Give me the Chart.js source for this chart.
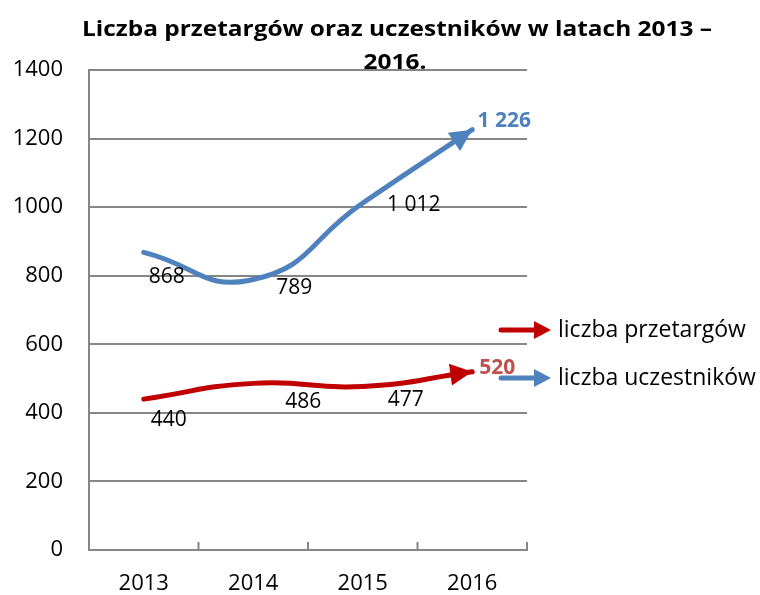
<!DOCTYPE html>
<html>
<head>
<meta charset="utf-8">
<script src="https://cdn.jsdelivr.net/npm/chart.js@4/dist/chart.umd.min.js"></script>
<style>
  html, body { margin: 0; padding: 0; background: #fff; }
  #wrap { width: 760px; height: 595px; position: relative; }
</style>
</head>
<body>
<div id="wrap"><canvas id="c" width="760" height="595"></canvas></div>
<script>
// Lata i wartości
const years = ['2013', '2014', '2015', '2016'];
const przetargi = [440, 486, 477, 520];
const uczestnicy = [868, 789, 1012, 1226];
const yTicks = [0, 200, 400, 600, 800, 1000, 1200, 1400];

const titleLines = ['Liczba przetargów oraz uczestników w latach 2013 –', '2016.'];
const seriesNames = ['liczba przetargów', 'liczba uczestników'];

// przesunięcia etykiet wartości względem punktów (px)
const labelShiftRed = [[25, 21], [50, 19], [43, 14], [25, -4]];
const labelShiftBlue = [[23, 25], [41, 9], [51, 2], [32, -9]];

const RED = '#C00000';
const BLUE = '#4F81BD';
const RED_LABEL = '#C0504D';
const GRID = '#868686';
const FONT = '"Open Sans", "Noto Sans", sans-serif';

function fmt(v) {
  return String(v).replace(/\B(?=(\d{3})+(?!\d))/g, ' ');
}

function drawArrowHead(ctx, x, y, ang, color, len, half) {
  ctx.save();
  ctx.translate(x, y);
  ctx.rotate(ang);
  ctx.fillStyle = color;
  ctx.beginPath();
  ctx.moveTo(0, 0);
  ctx.lineTo(-len, -half);
  ctx.lineTo(-len, half);
  ctx.closePath();
  ctx.fill();
  ctx.restore();
}

// tekst rozciągnięty w poziomie do zadanej szerokości
function fillStretched(ctx, txt, cx, cy, width) {
  const w = ctx.measureText(txt).width;
  const sx = width / w;
  ctx.save();
  ctx.translate(cx, cy);
  ctx.scale(sx, 1);
  ctx.textAlign = 'center';
  ctx.fillText(txt, 0, 0);
  ctx.restore();
}

const decorPlugin = {
  id: 'decor',
  afterDatasetsDraw(chart) {
    const ctx = chart.ctx;
    const xs = chart.scales.x;
    const ys = chart.scales.y;

    // pionowe kreski podziału kategorii na osi X
    ctx.save();
    ctx.strokeStyle = GRID;
    ctx.lineWidth = 2;
    const step = xs.getPixelForTick(1) - xs.getPixelForTick(0);
    for (let i = 0; i < years.length; i++) {
      const px = xs.getPixelForTick(i) + step / 2;
      ctx.beginPath();
      ctx.moveTo(px, ys.bottom);
      ctx.lineTo(px, ys.bottom - 8);
      ctx.stroke();
    }
    ctx.restore();

    // groty strzałek na końcach linii
    chart.data.datasets.forEach((ds, di) => {
      const meta = chart.getDatasetMeta(di);
      const pts = meta.data;
      const last = pts[pts.length - 1];
      const cx = last.cp1x !== undefined ? last.cp1x : pts[pts.length - 2].x;
      const cy = last.cp1y !== undefined ? last.cp1y : pts[pts.length - 2].y;
      const ang = Math.atan2(last.y - cy, last.x - cx);
      drawArrowHead(ctx, last.x, last.y, ang, ds.borderColor, 22, 11);
    });

    // etykiety wartości
    const sets = [
      { data: przetargi, shift: labelShiftRed, meta: chart.getDatasetMeta(0), lastColor: RED_LABEL },
      { data: uczestnicy, shift: labelShiftBlue, meta: chart.getDatasetMeta(1), lastColor: BLUE }
    ];
    ctx.save();
    ctx.textAlign = 'center';
    ctx.textBaseline = 'middle';
    sets.forEach(s => {
      s.data.forEach((v, i) => {
        const p = s.meta.data[i];
        const isLast = i === s.data.length - 1;
        ctx.font = (isLast ? 'bold ' : '') + '21px ' + FONT;
        ctx.fillStyle = isLast ? s.lastColor : '#000';
        ctx.fillText(fmt(v), p.x + s.shift[i][0], p.y + s.shift[i][1]);
      });
    });
    ctx.restore();
  },
  afterDraw(chart) {
    const ctx = chart.ctx;
    ctx.save();
    // tytuł
    ctx.fillStyle = '#000';
    ctx.textBaseline = 'middle';
    ctx.font = 'bold 22px ' + FONT;
    const w0 = ctx.measureText(titleLines[0]).width;
    const w1 = ctx.measureText(titleLines[1]).width;
    const k = 630 / w0;
    fillStretched(ctx, titleLines[0], 397, 30, 630);
    fillStretched(ctx, titleLines[1], 395, 63, w1 * k);

    // legenda
    const items = [[RED, seriesNames[0], 330], [BLUE, seriesNames[1], 378]];
    items.forEach(([col, txt, y]) => {
      ctx.strokeStyle = col;
      ctx.lineWidth = 5;
      ctx.lineCap = 'round';
      ctx.beginPath();
      ctx.moveTo(501, y);
      ctx.lineTo(536, y);
      ctx.stroke();
      drawArrowHead(ctx, 551, y, 0, col, 17, 9);
      ctx.fillStyle = '#000';
      ctx.textAlign = 'left';
      ctx.font = '23px ' + FONT;
      ctx.fillText(txt, 558, y);
    });
    ctx.restore();
  }
};

new Chart(document.getElementById('c'), {
  type: 'line',
  data: {
    labels: years,
    datasets: [
      {
        label: seriesNames[0],
        data: przetargi,
        borderColor: RED,
        borderWidth: 5,
        tension: 0.5,
        pointRadius: 0,
        borderCapStyle: 'round',
        fill: false
      },
      {
        label: seriesNames[1],
        data: uczestnicy,
        borderColor: BLUE,
        borderWidth: 5,
        tension: 0.5,
        pointRadius: 0,
        borderCapStyle: 'round',
        fill: false
      }
    ]
  },
  options: {
    responsive: false,
    animation: false,
    layout: { padding: { left: 0, right: 233, top: 70, bottom: 0 } },
    plugins: {
      legend: { display: false },
      tooltip: { enabled: false },
      title: { display: false }
    },
    scales: {
      x: {
        offset: true,
        grid: { display: false },
        border: { color: GRID, width: 2 },
        ticks: { color: '#000', font: { family: FONT, size: 22 }, padding: 13 },
        afterFit(scale) { scale.height = 45; }
      },
      y: {
        min: 0,
        max: 1400,
        afterBuildTicks(scale) { scale.ticks = yTicks.map(v => ({ value: v })); },
        grid: { color: GRID, lineWidth: 2, drawTicks: false },
        border: { color: GRID, width: 2 },
        ticks: {
          color: '#000',
          font: { family: FONT, size: 22 },
          padding: 26,
          callback: v => String(v)
        },
        afterFit(scale) { scale.width = 89; }
      }
    }
  },
  plugins: [decorPlugin]
});
</script>
</body>
</html>
